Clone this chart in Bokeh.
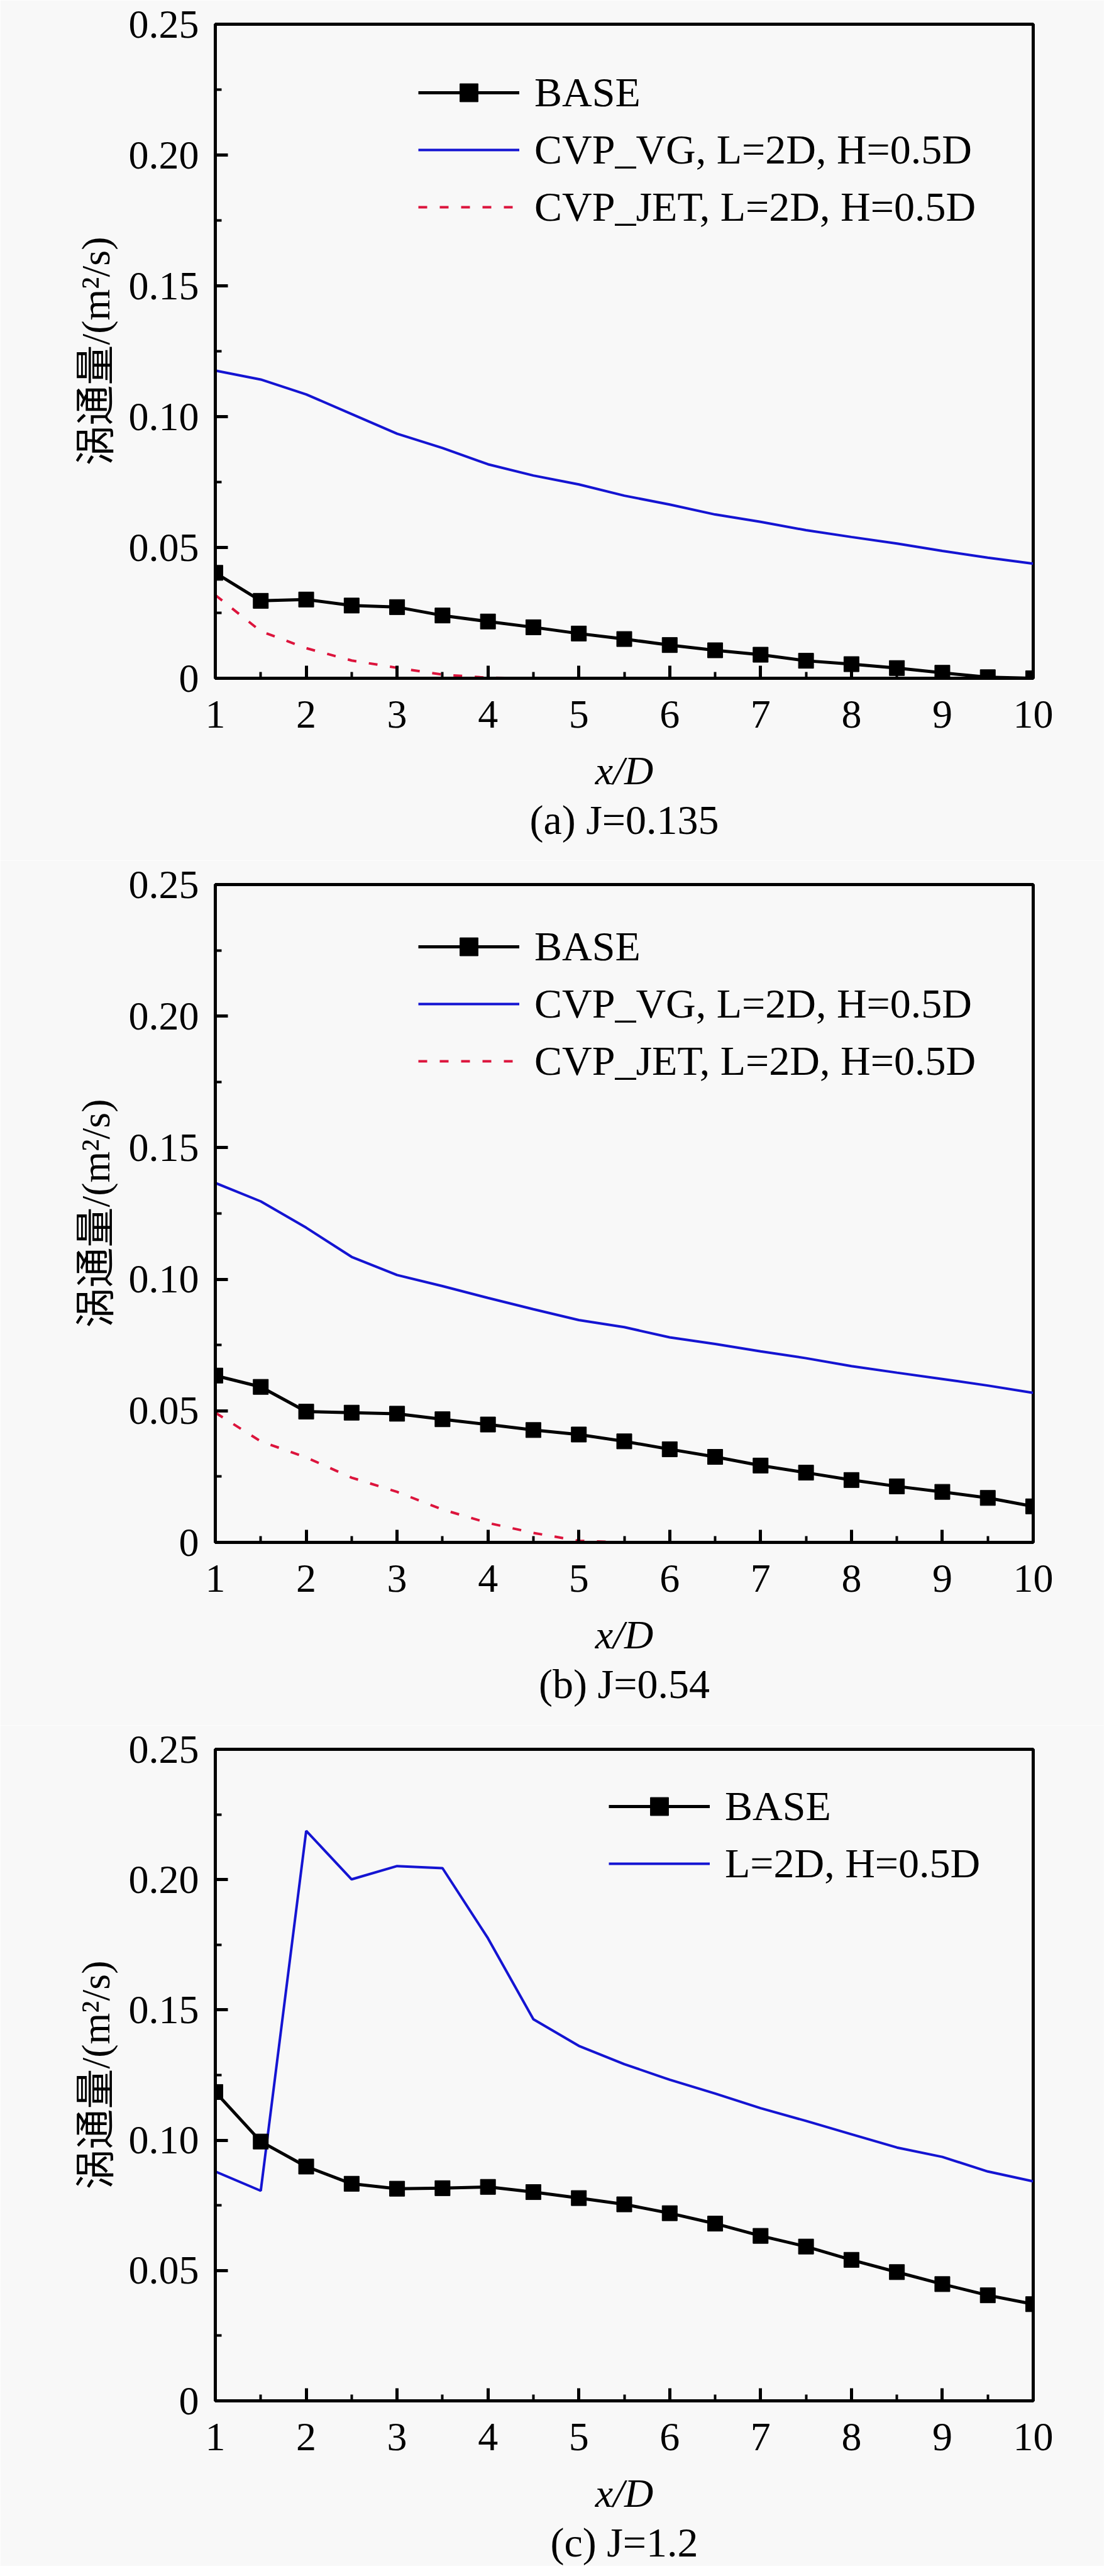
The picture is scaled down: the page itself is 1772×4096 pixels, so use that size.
from bokeh.plotting import figure
from bokeh.models import Range1d, FixedTicker, CustomJSTickFormatter, Legend, LegendItem, Title
from bokeh.layouts import column
from bokeh.embed import file_html
from bokeh.resources import INLINE

# ---------------- data ----------------
x_d = [1, 1.5, 2, 2.5, 3, 3.5, 4, 4.5, 5, 5.5, 6, 6.5, 7, 7.5, 8, 8.5, 9, 9.5, 10]

x_ticks = [1, 2, 3, 4, 5, 6, 7, 8, 9, 10]
x_minor = [1.5, 2.5, 3.5, 4.5, 5.5, 6.5, 7.5, 8.5, 9.5]
y_ticks = [0, 0.05, 0.10, 0.15, 0.20, 0.25]
y_minor = [0.025, 0.075, 0.125, 0.175, 0.225]

# (a) J=0.135
base_a = [0.0403, 0.0296, 0.0301, 0.0278, 0.0272, 0.0240, 0.0217, 0.0195, 0.0171, 0.0150,
          0.0127, 0.0107, 0.0090, 0.0067, 0.0054, 0.0039, 0.0021, 0.0004, 0.0000]
vg_a = [0.1176, 0.1142, 0.1085, 0.1010, 0.0935, 0.0880, 0.0818, 0.0775, 0.0741, 0.0698,
        0.0664, 0.0626, 0.0598, 0.0566, 0.0540, 0.0515, 0.0487, 0.0461, 0.0438]
jet_a = [0.0318, 0.0180, 0.0115, 0.0068, 0.0040, 0.0014, 0.0002, 0.0, 0.0, 0.0,
         0.0, 0.0, 0.0, 0.0, 0.0, 0.0, 0.0, 0.0, 0.0]

# (b) J=0.54
base_b = [0.0634, 0.0591, 0.0497, 0.0493, 0.0489, 0.0468, 0.0448, 0.0427, 0.0410, 0.0384,
          0.0354, 0.0325, 0.0292, 0.0265, 0.0237, 0.0213, 0.0192, 0.0169, 0.0137]
vg_b = [0.1366, 0.1296, 0.1196, 0.1085, 0.1016, 0.0974, 0.0929, 0.0886, 0.0845, 0.0818,
        0.0779, 0.0754, 0.0726, 0.0700, 0.0670, 0.0645, 0.0621, 0.0596, 0.0568]
jet_b = [0.0493, 0.0384, 0.0323, 0.0246, 0.0192, 0.0125, 0.0074, 0.0036, 0.0006, 0.0,
         0.0, 0.0, 0.0, 0.0, 0.0, 0.0, 0.0, 0.0, 0.0]

# (c) J=1.2
base_c = [0.1185, 0.0995, 0.0899, 0.0833, 0.0814, 0.0816, 0.0821, 0.0801, 0.0778, 0.0754,
          0.0720, 0.0680, 0.0633, 0.0592, 0.0541, 0.0494, 0.0448, 0.0405, 0.0371]
vg_c = [0.0880, 0.0806, 0.2187, 0.2001, 0.2052, 0.2044, 0.1775, 0.1464, 0.1362, 0.1292,
        0.1232, 0.1179, 0.1123, 0.1074, 0.1023, 0.0972, 0.0936, 0.0880, 0.0842]

label_base = "BASE"
label_vg = "CVP_VG, L=2D, H=0.5D"
label_jet = "CVP_JET, L=2D, H=0.5D"
label_vg_c = "L=2D, H=0.5D"

captions = ["(a) J=0.135", "(b) J=0.54", "(c) J=1.2"]
x_title = "x/D"
y_title = "涡通量/(m²/s)"

# ---------------- style ----------------
SERIF = "Liberation Serif"
BG = "#f8f8f8"
BLUE = "#1414d2"
RED = "#dc143c"
FS = "64px"
FS_LEG = "66px"


def make_panel(height, border_bottom, base, vg, jet, vg_label, caption, leg_loc):
    p = figure(width=1756, height=height, output_backend="svg", toolbar_location=None,
               x_range=Range1d(1, 10), y_range=Range1d(0, 0.25),
               min_border_left=342, min_border_right=113, min_border_top=38,
               min_border_bottom=border_bottom,
               background_fill_color=BG, border_fill_color=BG)
    p.grid.visible = False
    p.outline_line_color = "black"
    p.outline_line_width = 5

    for ax in (p.xaxis[0], p.yaxis[0]):
        ax.axis_line_width = 5
        ax.major_tick_line_width = 5
        ax.minor_tick_line_width = 4
        ax.major_tick_in = 20
        ax.major_tick_out = 0
        ax.minor_tick_in = 10
        ax.minor_tick_out = 0
        ax.major_label_text_font = SERIF
        ax.major_label_text_font_size = FS
        ax.major_label_text_color = "black"
        ax.axis_label_text_font_size = FS
        ax.axis_label_text_color = "black"

    p.xaxis[0].ticker = FixedTicker(ticks=x_ticks, minor_ticks=x_minor)
    p.yaxis[0].ticker = FixedTicker(ticks=y_ticks, minor_ticks=y_minor)
    p.yaxis[0].formatter = CustomJSTickFormatter(
        code="return Math.abs(tick) < 1e-9 ? '0' : tick.toFixed(2);")
    p.xaxis[0].major_label_standoff = 36
    p.yaxis[0].major_label_standoff = 26

    p.xaxis[0].axis_label = x_title
    p.xaxis[0].axis_label_text_font = SERIF
    p.xaxis[0].axis_label_text_font_style = "italic"
    p.xaxis[0].axis_label_standoff = 30

    p.yaxis[0].axis_label = y_title
    p.yaxis[0].axis_label_text_font = "Liberation Serif, Noto Sans CJK SC"
    p.yaxis[0].axis_label_text_font_style = "normal"
    p.yaxis[0].axis_label_standoff = 14

    items = []
    if jet is not None:
        rj = p.line(x_d, jet, line_color=RED, line_width=4, line_dash="14 20")
    rv = p.line(x_d, vg, line_color=BLUE, line_width=4)
    rb = p.line(x_d, base, line_color="black", line_width=5)
    rs = p.scatter(x_d, base, marker="square", size=24, fill_color="black", line_color="black")
    items.append(LegendItem(label=label_base, renderers=[rb, rs]))
    items.append(LegendItem(label=vg_label, renderers=[rv]))
    if jet is not None:
        items.append(LegendItem(label=label_jet, renderers=[rj]))

    leg = Legend(items=items, location=leg_loc, padding=0, margin=0,
                 glyph_width=161, glyph_height=72, label_height=72, spacing=15,
                 label_standoff=24, border_line_alpha=0, background_fill_alpha=0,
                 label_text_font=SERIF, label_text_font_size=FS_LEG, label_text_color="black")
    p.add_layout(leg)

    t = Title(text=caption, align="center", text_font=SERIF, text_font_size=FS_LEG,
              text_font_style="normal", text_color="black", standoff=3)
    p.add_layout(t, "below")
    return p


pa = make_panel(1368, 290, base_a, vg_a, jet_a, label_vg, captions[0], (323, 711))
pb = make_panel(1375, 291, base_b, vg_b, jet_b, label_vg, captions[1], (323, 727))
pc = make_panel(1337, 255, base_c, vg_c, None, label_vg_c, captions[2], (626, 816))

layout = column(pa, pb, pc, spacing=0)
open("out.html", "w").write(file_html(layout, INLINE))
